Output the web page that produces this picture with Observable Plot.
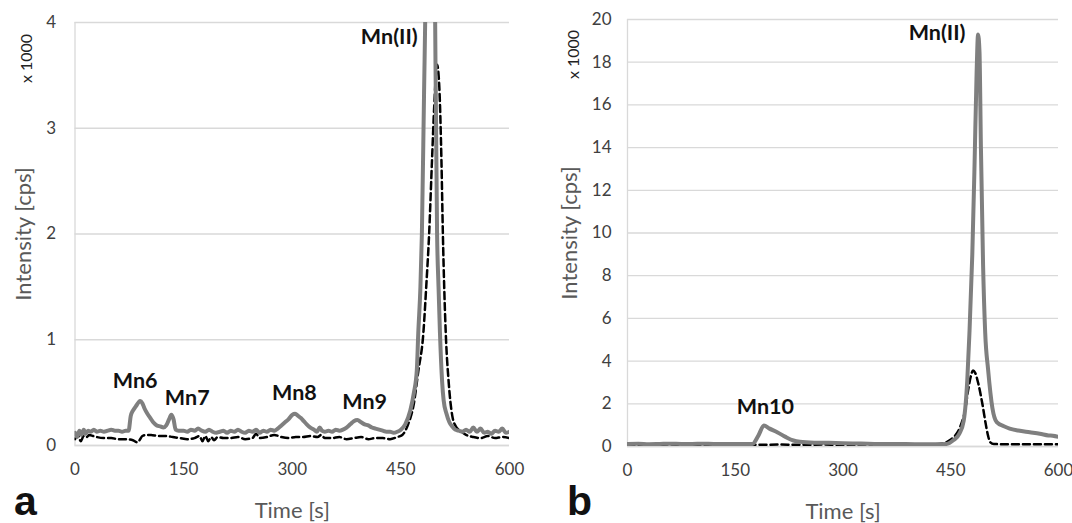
<!DOCTYPE html>
<html>
<head>
<meta charset="utf-8">
<script src="https://cdn.jsdelivr.net/npm/d3@7"></script>
<script src="https://cdn.jsdelivr.net/npm/@observablehq/plot@0.6"></script>
<style>
  html, body { margin: 0; padding: 0; background: #fff; }
  #wrap { position: relative; width: 1072px; height: 523px; overflow: hidden; }
  #pa, #pb { position: absolute; top: 0; }
  #pa { left: 0; }
  #pb { left: 536px; }
  .tag { position: absolute; font-family: "Liberation Sans", Arial, sans-serif; font-weight: bold; font-size: 41px; line-height: 1; height: 41px; color: #111; }
</style>
</head>
<body>
<div id="wrap">
  <div id="pa"></div>
  <div id="pb"></div>
  <div class="tag" style="left:14px; top:481px;">a</div>
  <div class="tag" style="left:567px; top:481px;">b</div>
</div>
<script>
// ---- Panel a data (intensity in thousands of cps) ----
const aSolidT = [0,3,6,9,12,15,18,22,26,30,35,40,45,50,55,60,65,70,74,77,80,84,88,90,93,96,100,104,108,113,118,122,126,130,133,136,139,143,150,155,160,165,170,175,180,185,190,195,200,205,210,215,220,225,230,235,240,245,250,255,260,265,270,275,280,285,290,295,300,304,308,312,316,320,325,330,334,338,341,345,350,355,360,365,370,375,380,385,390,395,400,405,410,415,420,425,430,435,440,445,450,456,463,468,472,474,477,479,482,484,487,491,495,497,500,502,504,507,509,513,517,521,525,530,535,540,545,550,555,560,565,570,575,580,585,590,595,600];
const aSolidV = [0.12,0.08,0.14,0.10,0.15,0.11,0.14,0.13,0.15,0.13,0.14,0.13,0.14,0.15,0.14,0.14,0.13,0.14,0.14,0.28,0.33,0.37,0.41,0.42,0.40,0.35,0.30,0.26,0.22,0.19,0.18,0.17,0.19,0.25,0.29,0.25,0.15,0.14,0.14,0.13,0.15,0.14,0.16,0.14,0.13,0.15,0.13,0.12,0.13,0.14,0.12,0.14,0.13,0.15,0.13,0.12,0.14,0.13,0.15,0.12,0.14,0.13,0.15,0.14,0.16,0.19,0.22,0.25,0.29,0.30,0.28,0.26,0.23,0.20,0.17,0.15,0.13,0.17,0.14,0.13,0.14,0.13,0.15,0.14,0.15,0.17,0.20,0.23,0.24,0.22,0.20,0.19,0.17,0.16,0.15,0.14,0.13,0.13,0.12,0.13,0.15,0.20,0.33,0.50,0.71,1.06,1.50,2.00,3.33,4.20,6.00,8.00,6.00,4.30,2.00,1.50,1.06,0.60,0.43,0.30,0.22,0.18,0.15,0.14,0.13,0.15,0.13,0.17,0.13,0.16,0.12,0.13,0.11,0.14,0.13,0.16,0.12,0.13];
const aDashT = [0,4,8,12,16,20,25,30,40,50,60,70,80,86,89,93,98,105,115,125,135,145,155,165,172,176,180,184,188,192,197,205,215,225,235,245,250,255,265,275,285,295,305,315,325,335,340,345,355,365,375,385,395,405,415,425,435,445,452,460,468,474,481,485,489,493,496,500,503,506,508,512,516,521,526,532,540,550,560,570,580,590,600];
const aDashV = [0.06,0.10,0.04,0.09,0.08,0.10,0.09,0.08,0.07,0.07,0.06,0.06,0.05,0.03,0.05,0.09,0.10,0.10,0.09,0.09,0.08,0.07,0.06,0.07,0.09,0.04,0.09,0.04,0.08,0.05,0.08,0.07,0.07,0.08,0.06,0.07,0.11,0.07,0.08,0.10,0.08,0.07,0.08,0.08,0.09,0.08,0.10,0.07,0.07,0.08,0.06,0.07,0.08,0.06,0.07,0.07,0.06,0.08,0.10,0.20,0.40,0.70,1.06,1.50,2.00,2.70,3.20,3.60,3.40,2.70,2.00,1.06,0.60,0.28,0.18,0.14,0.10,0.08,0.07,0.09,0.07,0.08,0.07];
const aLabels = ["Mn6","Mn7","Mn8","Mn9","Mn(II)"];
const aLabelT = [83,155,303,400,434];
const aLabelV = [0.61,0.445,0.50,0.41,3.86];
const aTicksY = [0,1,2,3,4];

// ---- Panel b data ----
const bSolidT = [0,15,30,45,60,75,90,105,120,135,150,165,174,182,190,197,209,220,231,240,260,280,300,325,350,375,400,420,444,454,462,468,473,476,480,483,486,488,490,492,495,498,502,508,514,524,532,544,560,574,586,592,600];
const bSolidV = [0.12,0.13,0.11,0.12,0.13,0.12,0.12,0.13,0.12,0.12,0.12,0.12,0.12,0.50,0.98,0.85,0.66,0.45,0.28,0.22,0.18,0.17,0.15,0.14,0.12,0.12,0.11,0.11,0.12,0.30,0.60,1.20,3.10,5.30,9.00,13.0,17.5,19.3,18.5,14.0,8.50,5.30,3.60,1.80,1.14,0.95,0.84,0.75,0.67,0.60,0.52,0.50,0.45];
const bDashT = [0,30,60,90,120,150,180,210,240,270,300,330,360,390,420,440,449,456,464,470,474,478,481,484,488,494,499,502,505,510,534,560,600];
const bDashV = [0.09,0.08,0.09,0.08,0.09,0.08,0.08,0.09,0.08,0.09,0.08,0.09,0.08,0.08,0.09,0.15,0.30,0.50,1.00,1.70,2.60,3.30,3.56,3.45,3.00,2.00,1.00,0.50,0.20,0.12,0.10,0.10,0.10];
const bLabels = ["Mn10","Mn(II)"];
const bLabelT = [192,431];
const bLabelV = [1.83,19.34];
const bTicksY = [0,2,4,6,8,10,12,14,16,18,20];

const xTicks = [0,150,300,450,600];

const zip = (T, V) => T.map((t, i) => ({t, v: V[i]}));
const lab = (N, T, V) => N.map((n, i) => ({n, t: T[i], v: V[i]}));

const FONT = "Lato, 'Open Sans', sans-serif";
const GRID = "#d9d9d9";
const TXT = "#595959";

function panel({width, ml, mr, mt, mb, yTicks, yMax, solid, dash, labels, ticksPad, ylabDx, multDx, multDy}) {
  return Plot.plot({
    width, height: 523,
    marginLeft: ml, marginRight: mr, marginTop: mt, marginBottom: mb,
    style: {fontFamily: FONT, background: "white", overflow: "visible"},
    x: {domain: [0, 600], ticks: xTicks},
    y: {domain: [0, yMax], ticks: yTicks},
    marks: [
      Plot.gridY(yTicks, {stroke: GRID, strokeOpacity: 1, strokeWidth: 1.3}),
      Plot.ruleX([0], {stroke: GRID, strokeWidth: 1.3}),
      Plot.ruleY([0], {stroke: GRID, strokeWidth: 1.3}),
      Plot.axisY(yTicks, {tickSize: 0, tickPadding: ticksPad, fontSize: 17, fill: "#404040", label: null, tickFormat: "d"}),
      Plot.axisX(xTicks, {tickSize: 0, tickPadding: 17, fontSize: 17, fill: "#404040", label: null, tickFormat: "d"}),
      Plot.line(dash, {x: "t", y: "v", stroke: "#000", strokeWidth: 2.5, strokeDasharray: "7,4", curve: "monotone-x", clip: true}),
      Plot.line(solid, {x: "t", y: "v", stroke: "#7f7f7f", strokeWidth: 4, curve: "monotone-x", clip: true}),
      Plot.text(labels, {x: "t", y: "v", text: "n", fontSize: 21.5, fontWeight: "bold", fill: "#111", textAnchor: "middle"}),
      Plot.text(["Intensity [cps]"], {frameAnchor: "left", dx: ylabDx, rotate: -90, fontSize: 22, fill: TXT, textAnchor: "middle", lineAnchor: "middle"}),
      Plot.text(["x 1000"], {frameAnchor: "top-left", dx: multDx, dy: multDy, rotate: -90, fontSize: 16, fill: "#222", textAnchor: "middle", lineAnchor: "middle"}),
      Plot.text(["Time [s]"], {frameAnchor: "bottom", dy: 65, fontSize: 22, fill: TXT, textAnchor: "middle", lineAnchor: "middle"})
    ]
  });
}

document.getElementById("pa").append(panel({
  width: 536, ml: 74.5, mr: 27, mt: 22, mb: 78,
  yTicks: aTicksY, yMax: 4,
  solid: zip(aSolidT, aSolidV), dash: zip(aDashT, aDashV),
  labels: lab(aLabels, aLabelT, aLabelV),
  ticksPad: 19, ylabDx: -51, multDx: -48, multDy: 36
}));

document.getElementById("pb").append(panel({
  width: 536, ml: 91, mr: 14, mt: 19, mb: 77,
  yTicks: bTicksY, yMax: 20,
  solid: zip(bSolidT, bSolidV), dash: zip(bDashT, bDashV),
  labels: lab(bLabels, bLabelT, bLabelV),
  ticksPad: 16, ylabDx: -58, multDx: -54, multDy: 35
}));
</script>
</body>
</html>
